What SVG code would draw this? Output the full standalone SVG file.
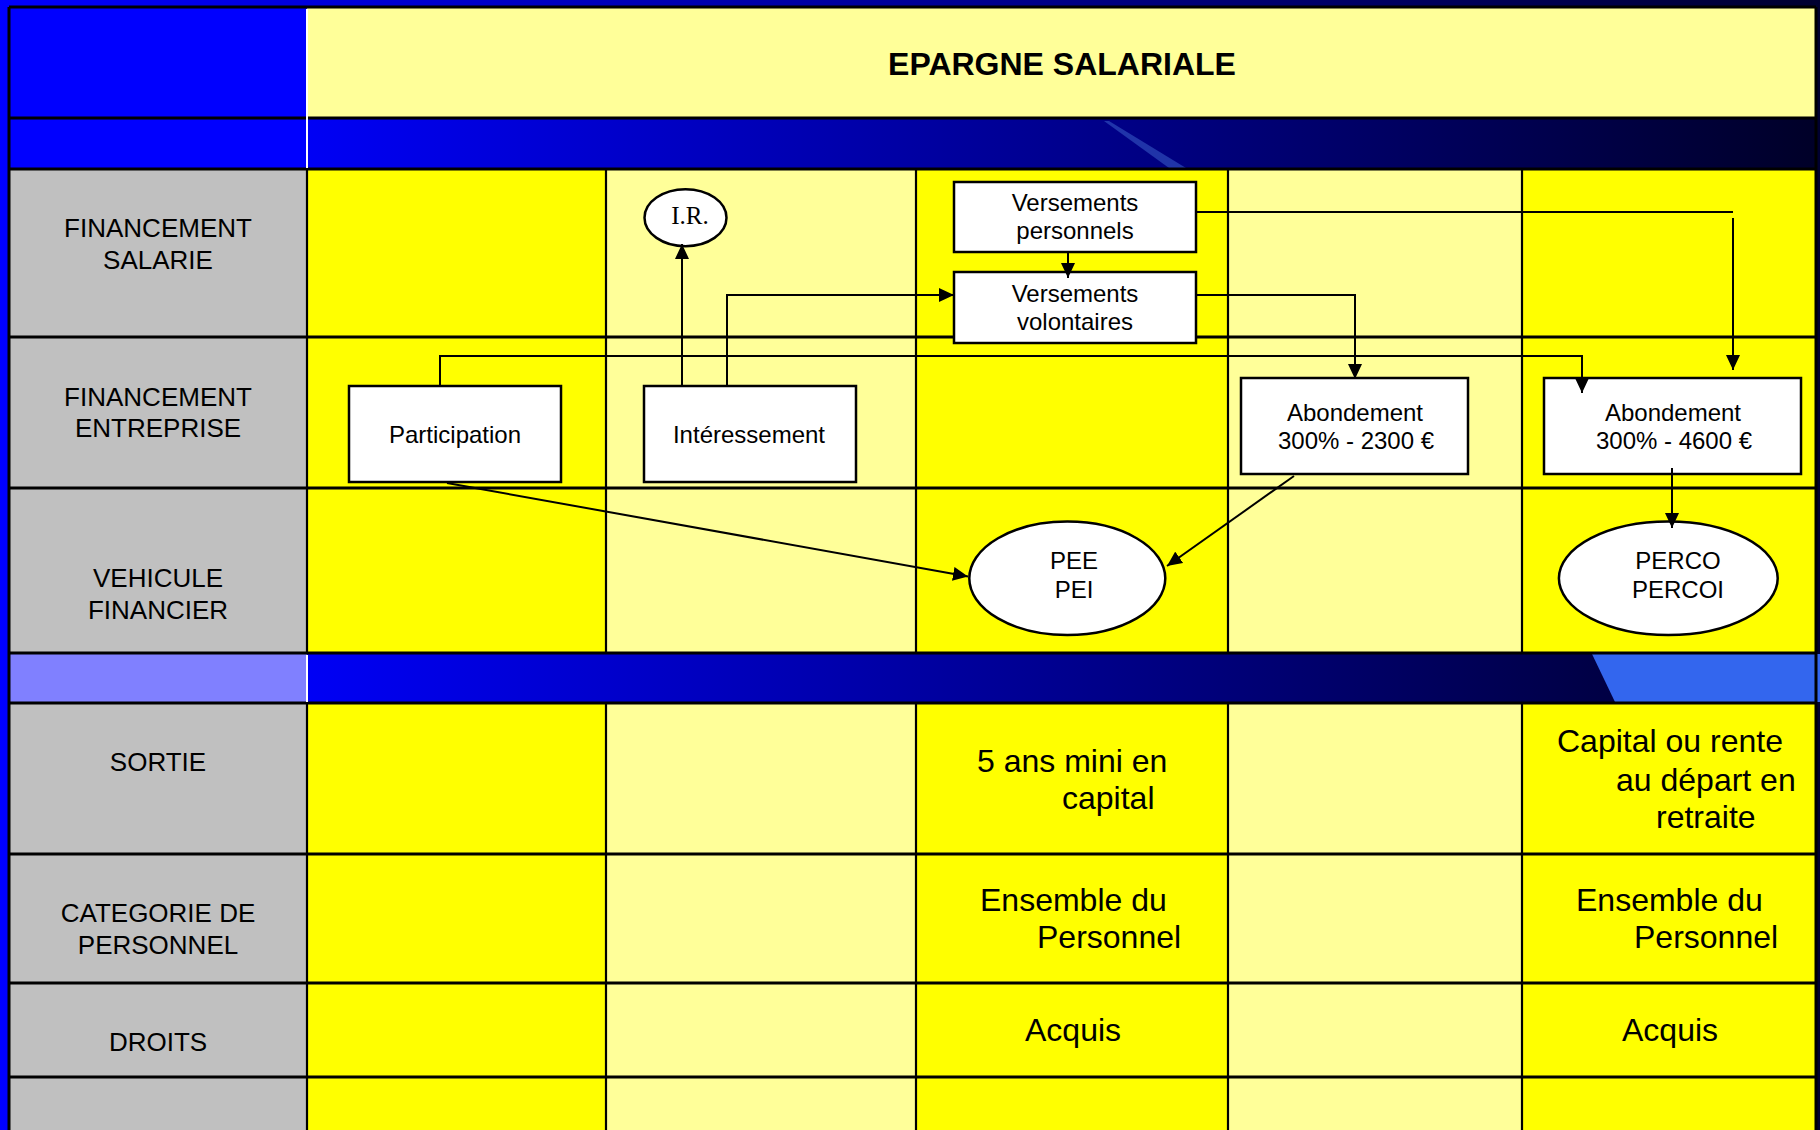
<svg xmlns="http://www.w3.org/2000/svg" width="1820" height="1130" viewBox="0 0 1820 1130">
<defs>
  <linearGradient id="bg" x1="0" y1="0" x2="1" y2="0">
    <stop offset="0" stop-color="#0000FF"/>
    <stop offset="1" stop-color="#000030"/>
  </linearGradient>
  <linearGradient id="band" gradientUnits="userSpaceOnUse" x1="307" y1="0" x2="1816" y2="0">
    <stop offset="0" stop-color="#0000F5"/>
    <stop offset="1" stop-color="#000028"/>
  </linearGradient>
  <marker id="arrow" markerUnits="userSpaceOnUse" markerWidth="16" markerHeight="14" refX="15" refY="7" orient="auto">
    <path d="M0,0 L15,7 L0,14 z" fill="#000"/>
  </marker>
</defs>
<style>
  .lbl { font-family: "Liberation Sans", Arial, sans-serif; font-size: 26px; fill: #000; text-anchor: middle; }
  .box { fill: #fff; stroke: #000; stroke-width: 2.5; }
  .btx { font-family: "Liberation Sans", Arial, sans-serif; font-size: 24px; fill: #000; text-anchor: middle; }
  .big { font-family: "Liberation Sans", Arial, sans-serif; font-size: 32px; fill: #000; }
  .grid { stroke: #000; stroke-width: 3; fill: none; }
  .vgrid { stroke: #000; stroke-width: 2.2; fill: none; }
  .conn { stroke: #000; stroke-width: 2; fill: none; }
  .y1 { fill: #FFFF00; }
  .y2 { fill: #FFFF99; }
  .gray { fill: #C0C0C0; }
</style>

<!-- background -->
<rect x="0" y="0" width="1820" height="1130" fill="url(#bg)"/>

<!-- table -->
<g id="table">
  <rect x="9" y="7" width="298" height="162" fill="#0000FF"/>
  <rect x="307" y="7" width="1509" height="111" fill="#FFFF99"/>
  <rect x="307" y="118" width="1509" height="51" fill="url(#band)"/>
  <polygon points="1104,121 1109,121 1186,168 1169,168" fill="#3A5FC8" opacity="0.55"/>

  <rect class="gray" x="9" y="169" width="298" height="484"/>
  <rect class="y1" x="307" y="169" width="299" height="484"/>
  <rect class="y2" x="606" y="169" width="310" height="484"/>
  <rect class="y1" x="916" y="169" width="312" height="484"/>
  <rect class="y2" x="1228" y="169" width="294" height="484"/>
  <rect class="y1" x="1522" y="169" width="294" height="484"/>

  <rect x="9" y="653" width="298" height="50" fill="#8080FF"/>
  <rect x="307" y="653" width="1509" height="50" fill="url(#band)"/>
  <polygon points="1592,654 1820,654 1820,702 1615,702" fill="#3366EE"/>

  <rect class="gray" x="9" y="703" width="298" height="430"/>
  <rect class="y1" x="307" y="703" width="299" height="430"/>
  <rect class="y2" x="606" y="703" width="310" height="430"/>
  <rect class="y1" x="916" y="703" width="312" height="430"/>
  <rect class="y2" x="1228" y="703" width="294" height="430"/>
  <rect class="y1" x="1522" y="703" width="294" height="430"/>

  <path class="grid" d="M9,7 H1816 M9,118 H1816 M9,169 H1816 M9,337 H1816 M9,488 H1816 M9,653 H1816 M9,703 H1816 M9,854 H1816 M9,983 H1816 M9,1077 H1816"/>
  <path class="grid" d="M9,7 V1130 M1816,7 V1130"/>
  <path d="M307,9 V168 M307,655 V702" stroke="#fff" stroke-width="2" fill="none"/>
  <path class="vgrid" d="M307,169 V653 M606,169 V653 M916,169 V653 M1228,169 V653 M1522,169 V653 M307,703 V1130 M606,703 V1130 M916,703 V1130 M1228,703 V1130 M1522,703 V1130"/>
</g>

<!-- title and row labels -->
<g id="labels">
  <text x="1062" y="75" font-family="'Liberation Sans', Arial, sans-serif" font-size="32" font-weight="bold" text-anchor="middle">EPARGNE SALARIALE</text>
  <text class="lbl" x="158" y="237">FINANCEMENT</text>
  <text class="lbl" x="158" y="269">SALARIE</text>
  <text class="lbl" x="158" y="406">FINANCEMENT</text>
  <text class="lbl" x="158" y="437">ENTREPRISE</text>
  <text class="lbl" x="158" y="587">VEHICULE</text>
  <text class="lbl" x="158" y="619">FINANCIER</text>
  <text class="lbl" x="158" y="771">SORTIE</text>
  <text class="lbl" x="158" y="922">CATEGORIE DE</text>
  <text class="lbl" x="158" y="954">PERSONNEL</text>
  <text class="lbl" x="158" y="1051">DROITS</text>
</g>

<!-- cell texts -->
<g id="cells">
  <text class="big" x="977" y="772">5 ans mini en</text>
  <text class="big" x="1062" y="809">capital</text>
  <text class="big" x="1557" y="752">Capital ou rente</text>
  <text class="big" x="1616" y="791">au départ en</text>
  <text class="big" x="1656" y="828">retraite</text>
  <text class="big" x="980" y="911">Ensemble du</text>
  <text class="big" x="1037" y="948">Personnel</text>
  <text class="big" x="1576" y="911">Ensemble du</text>
  <text class="big" x="1634" y="948">Personnel</text>
  <text class="big" x="1025" y="1041">Acquis</text>
  <text class="big" x="1622" y="1041">Acquis</text>
</g>

<!-- nodes -->
<g id="node-ir">
  <ellipse class="box" cx="685.5" cy="217.7" rx="41" ry="28.5"/>
  <text x="690" y="224" font-family="'Liberation Serif', 'Times New Roman', serif" font-size="25" text-anchor="middle">I.R.</text>
</g>
<g id="node-participation">
  <rect class="box" x="349" y="386" width="212" height="96"/>
  <text class="btx" x="455" y="443">Participation</text>
</g>
<g id="node-interessement">
  <rect class="box" x="644" y="386" width="212" height="96"/>
  <text class="btx" x="749" y="443">Intéressement</text>
</g>
<g id="node-vp">
  <rect class="box" x="954" y="182" width="242" height="70"/>
  <text class="btx" x="1075" y="211">Versements</text>
  <text class="btx" x="1075" y="239">personnels</text>
</g>
<g id="node-vv">
  <rect class="box" x="954" y="272" width="242" height="71"/>
  <text class="btx" x="1075" y="302">Versements</text>
  <text class="btx" x="1075" y="330">volontaires</text>
</g>
<g id="node-ab2300">
  <rect class="box" x="1241" y="378" width="227" height="96"/>
  <text class="btx" x="1355" y="421">Abondement</text>
  <text class="btx" x="1356" y="449">300% - 2300 €</text>
</g>
<g id="node-ab4600">
  <rect class="box" x="1544" y="378" width="257" height="96"/>
  <text class="btx" x="1673" y="421">Abondement</text>
  <text class="btx" x="1674" y="449">300% - 4600 €</text>
</g>
<g id="node-pee">
  <ellipse class="box" cx="1067.3" cy="578.3" rx="98" ry="56.7"/>
  <text class="btx" x="1074" y="569">PEE</text>
  <text class="btx" x="1074" y="598">PEI</text>
</g>
<g id="node-perco">
  <ellipse class="box" cx="1668.3" cy="578.3" rx="109.4" ry="56.7"/>
  <text class="btx" x="1678" y="569">PERCO</text>
  <text class="btx" x="1678" y="598">PERCOI</text>
</g>

<!-- connectors -->
<g id="connectors">
  <path class="conn" d="M447,483 L968,576.5" marker-end="url(#arrow)"/>
  <path class="conn" d="M1294,476 L1167,566" marker-end="url(#arrow)"/>
  <path class="conn" d="M1672,468 L1672,528" marker-end="url(#arrow)"/>
  <path class="conn" d="M682,386 L682,244" marker-end="url(#arrow)"/>
  <path class="conn" d="M727,386 L727,295 L954,295" marker-end="url(#arrow)"/>
  <path class="conn" d="M440,386 L440,356 L1582,356 L1582,393" marker-end="url(#arrow)"/>
  <path class="conn" d="M1068,252 L1068,278" marker-end="url(#arrow)"/>
  <path class="conn" d="M1196,295 L1355,295 L1355,379" marker-end="url(#arrow)"/>
  <path class="conn" d="M1196,212 L1733,212 M1733,218 L1733,370" marker-end="url(#arrow)"/>
</g>
</svg>
